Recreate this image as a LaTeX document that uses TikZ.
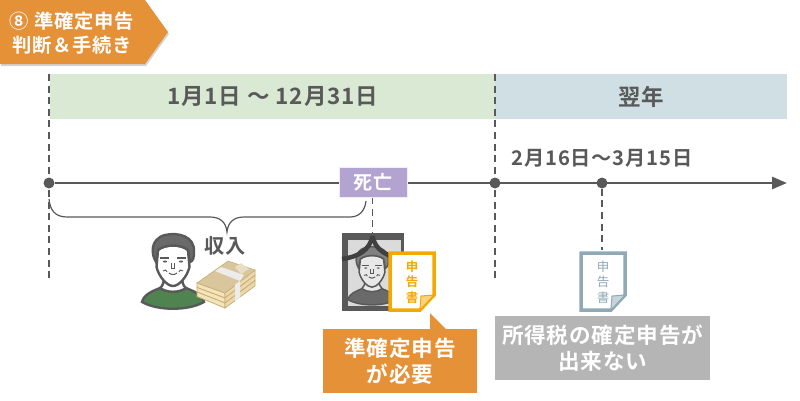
\documentclass[tikz,border=0pt]{standalone}
\usepackage{fontspec}
\setmainfont[LetterSpace=4,BoldFont={Noto Sans CJK JP Bold}]{Noto Sans CJK JP}
\usetikzlibrary{positioning, arrows.meta, shadows, backgrounds}

\definecolor{inkgray}{HTML}{595959}
\definecolor{tagorange}{HTML}{E59138}
\definecolor{docorange}{HTML}{F5A800}
\definecolor{docblue}{HTML}{8FA9B5}
\definecolor{yeargreen}{HTML}{D9E9D3}
\definecolor{yearblue}{HTML}{CFDFE4}
\definecolor{deathpurple}{HTML}{B3A3D1}
\definecolor{boxgray}{HTML}{B5B5B5}
\definecolor{billtan}{HTML}{C9AE72}
\definecolor{billcream}{HTML}{F3E4BC}

\tikzset{
  band/.style={minimum height=45pt, inner sep=0pt, font=\bfseries\fontsize{22.5}{22.5}\selectfont, text=inkgray},
  label/.style={inner sep=0pt, font=\bfseries\fontsize{20.2}{20}\selectfont, text=inkgray},
  whitebox/.style={inner sep=0pt, align=center, text=white, font=\bfseries\fontsize{21.6}{26}\selectfont},
  dot/.style={circle, fill=inkgray, minimum size=11pt, inner sep=0pt},
  guide/.style={draw=inkgray, line width=1.5pt, dash pattern=on 7pt off 4.6pt},
  person/.pic={
    % shirt and neck
    \draw[fill=shirtc, draw=linec, line width=\pw] (-31,38) .. controls (-29,30) and (-20,27) .. (-13,24) .. controls (-6,28) and (6,28) .. (13,24) .. controls (20,27) and (29,30) .. (31,38) .. controls (15,47) and (-15,47) .. cycle;
    \draw[fill=facec, draw=linec, line width=\pw] (-13,24) .. controls (-10,22) and (-9,18) .. (-9,12) -- (9,12) .. controls (9,18) and (10,22) .. (13,24) .. controls (6,29) and (-6,29) .. cycle;
    % face
    \draw[fill=facec, draw=linec, line width=\pw] (-15,-14) -- (-16.5,3) .. controls (-14,13) and (-6,22) .. (0,22) .. controls (6,22) and (14,13) .. (16.5,3) -- (15,-14) .. controls (8,-20) and (-8,-20) .. cycle;
    % hair
    \draw[fill=hairc, draw=linec, line width=\pw] (-17,-2) .. controls (-22,-10) and (-23,-25) .. (-8,-29) .. controls (5,-32) and (22,-28) .. (21,-12) .. controls (21,-6) and (20,-3) .. (17,-2) -- (15,-14) .. controls (8,-20) and (-8,-20) .. (-15,-14) -- cycle;
    % eyes, brows, nose, mouth
    \draw[linec, line width=1.6pt] (-13,-6) -- (-4,-6) (4,-6) -- (13,-6);
    \fill[linec] (-8,-2.5) ellipse (2.2 and 1) (8,-2.5) ellipse (2.2 and 1);
    \draw[linec, line width=.8pt] (-1.5,-1) -- (-1.5,4) -- (1.5,4) -- (1.5,-1);
    \draw[linec, line width=1pt] (-4,9) .. controls (-2,11) and (2,11) .. (4,9);
    \draw[linec, line width=.9pt] (-10,7) .. controls (-8,5) and (-6,6) .. (-6,8) (10,7) .. controls (8,5) and (6,6) .. (6,8);
  },
  billstack/.pic={
    % layers on the two side faces
    \foreach \n in {0,1,2}{
      \fill[billcream, draw=billtan, line width=.8pt] (0,{\n*4.5}) -- (28,{\n*5+10}) -- (28,{\n*5+15}) -- (0,{\n*4.5+4.5}) -- cycle;
      \fill[billcream!80!billtan, draw=billtan, line width=.8pt] (28,{\n*5+10}) -- (58,{\n*5.3-13}) -- (58,{\n*5.3-7.7}) -- (28,{\n*5+15}) -- cycle;
    }
    \fill[billtan!70!white, draw=billtan, line width=.6pt] (0,0) -- (31,-22) -- (58,-13) -- (28,10) -- cycle;
    \fill[billtan!40!white] (38,-16) -- (44,-20) -- (52,-14) -- (44,-9) -- cycle;
    % paper band
    \fill[white!85!gray] (18,-12) -- (24,-16) -- (47,-8) -- (43,-2) -- cycle;
    \fill[white!85!gray] (38,1.5) -- (43,-2) -- (43,14) -- (38,19) -- cycle;
  }
}

% paper sheet with a folded corner
\newcommand{\docicon}[4]{
  \draw[#3, line width=3.5pt, fill=white, line join=miter] (#1,#2) -- ++(44,0) -- ++(0,42) -- ++(-14,15) -- ++(-30,0) -- cycle;
  \fill[#3!50!white, draw=#3, line width=1pt] ({#1+44},{#2+42}) -- ++(-13,1) -- ++(-1,14) -- cycle;
  \node[inner sep=0pt, align=center, text=#3, font=#4] at ({#1+22},{#2+29}) {申\\告\\書};
}

\begin{document}
\begin{tikzpicture}[x=1pt, y=-1pt]
\useasboundingbox (0,0) rectangle (800,400);

% title tag
\fill[tagorange, drop shadow={shadow xshift=1pt, shadow yshift=-2pt, opacity=.35}] (0,0) -- (145,0) -- (168,32) -- (145,64) -- (0,64) -- cycle;
\node[whitebox, font=\bfseries\fontsize{19.3}{24}\selectfont] (title) at (72,33) {⑧ 準確定申告\\判断＆手続き};

% guide ends
\coordinate (startTop) at (49,74);
\coordinate (startEnd) at (49,278);
\coordinate (newTop) at (495,74);
\coordinate (newEnd) at (495,278);
\coordinate (timeEnd) at (787,183);
\node[dot] (startDot) at (49,183) {};
\node[dot] (newDot) at (495,183) {};
\node[dot] (dueDot) at (602,183) {};
\node[fill=deathpurple, draw=white!80!deathpurple, minimum width=68pt, minimum height=30pt, inner sep=0pt, text=white, font=\bfseries\fontsize{19}{19}\selectfont] (death) at (373,182) {死亡};
\coordinate (deathEnd) at (372.5,234);
\coordinate (docEnd) at (602,250);

% year bands
\node[band, minimum width=445pt, anchor=north west] (thisyear) at (50,74) {1月1日 〜 12月31日};
\node[band, minimum width=292pt, anchor=north west] (nextyear) at (495,74) {翌年};

\begin{scope}[on background layer]
\fill[yeargreen] (thisyear.north west) rectangle (thisyear.south east);
\fill[yearblue] (nextyear.north west) rectangle (nextyear.south east);
\draw[guide] (startTop) -- (startEnd);
\draw[guide] (newTop) -- (newEnd);
\draw[guide] (death.south -| deathEnd) -- (deathEnd);
\draw[guide] (dueDot) -- (docEnd);
\draw[inkgray, line width=2.8pt, -{Triangle[length=15pt, width=12pt]}] (startDot) -- (timeEnd);
\end{scope}

% brace under the income period
\coordinate (braceL) at (49,199);
\coordinate (braceR) at (366,201);
\coordinate (braceTip) at (227,232);
\draw[inkgray, line width=1.2pt] (braceL) .. controls (50,210) and (55,217) .. (67,217) -- (210,217) .. controls (220,217) and (226,222) .. (braceTip) .. controls (228,222) and (234,217) .. (244,217) -- (350,217) .. controls (360,217) and (365,210) .. (braceR);

\node[label] (income) at (225,246) {収入};
\node[label] (period) at (602,158) {2月16日〜3月15日};

% person with money
\definecolor{shirtc}{HTML}{4F8450}
\colorlet{facec}{white}
\colorlet{linec}{inkgray}
\colorlet{hairc}{inkgray!90!white}
\def\pw{2.4pt}
\pic (man) at (173,264) {person};
\pic (money) at (197,283) {billstack};

% funeral photo
\node[fill=inkgray, minimum width=62pt, minimum height=78pt, inner sep=0pt, anchor=north west] (photo) at (342,233) {};
\begin{scope}
\draw[white!70!gray, fill=white!72!gray, line width=1pt] (348,240) rectangle (400,305);
\clip (348,240) rectangle (400,305);
\colorlet{shirtc}{inkgray!90!white}
\colorlet{facec}{white!82!gray}
\colorlet{hairc}{gray}
\def\pw{1.5pt}
\pic[scale=.78] (deadman) at (372,270) {person};
\end{scope}
\draw[black!75, line width=4.5pt] (372.5,236) .. controls (370,250) and (358,257) .. (342,259);
\draw[black!75, line width=4.5pt] (372.5,236) .. controls (375,250) and (387,257) .. (404,259);

% documents
\docicon{390}{253}{docorange}{\bfseries\fontsize{12.5}{15.5}\selectfont}
\docicon{581}{253}{docblue}{\fontsize{12.5}{15.5}\selectfont}

% notes
\fill[tagorange] (430,313) -- (447,330) -- (430,330) -- cycle;
\node[whitebox, fill=tagorange, minimum width=154pt, minimum height=64pt, anchor=north west] (note) at (323,329) {準確定申告\\が必要};
\node[whitebox, fill=boxgray, minimum width=215pt, minimum height=64pt, anchor=north west] (grayNote) at (495,316) {所得税の確定申告が\\出来ない};
\end{tikzpicture}
\end{document}
